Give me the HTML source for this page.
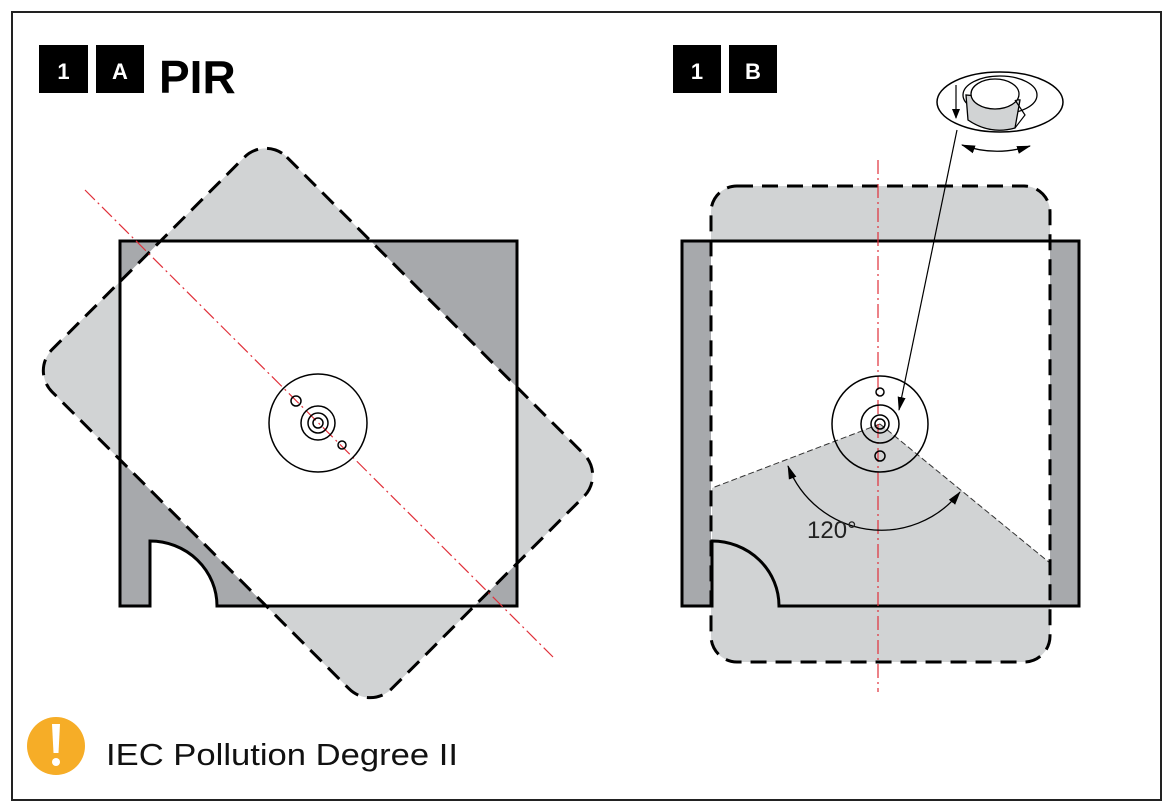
<!DOCTYPE html>
<html><head><meta charset="utf-8"><style>
html,body{margin:0;padding:0;background:#fff;}
svg{display:block;}
</style></head><body>
<svg width="1173" height="809" viewBox="0 0 1173 809" xmlns="http://www.w3.org/2000/svg">
<defs>
  <clipPath id="roomL"><path d="M120,241 H517 V606 H217 A67,65 0 0 0 150,541 V606 H120 Z"/></clipPath>
  <clipPath id="roomR"><path d="M682,241 H1079 V606 H779 A67,65 0 0 0 712,541 V606 H682 Z"/></clipPath>
  <clipPath id="rectR"><rect x="711" y="186" width="339" height="476" rx="26"/></clipPath>
  <marker id="ah" markerWidth="10" markerHeight="10" refX="9" refY="5" orient="auto" markerUnits="userSpaceOnUse"><path d="M0,1 L10,5 L0,9 Z" fill="#000"/></marker>
  <marker id="ahs" markerWidth="14" markerHeight="10" refX="13" refY="5" orient="auto-start-reverse" markerUnits="userSpaceOnUse"><path d="M0,1 L14,5 L0,9 Z" fill="#000"/></marker>
</defs>
<rect x="12" y="12" width="1149" height="788" fill="#fff" stroke="#222" stroke-width="2"/>

<!-- headers -->
<rect x="39" y="45" width="49" height="48" fill="#000"/>
<text x="63.5" y="79" font-family="Liberation Sans, sans-serif" font-size="22" font-weight="bold" fill="#fff" text-anchor="middle">1</text>
<rect x="96" y="45" width="48" height="48" fill="#000"/>
<text x="120" y="79" font-family="Liberation Sans, sans-serif" font-size="22" font-weight="bold" fill="#fff" text-anchor="middle">A</text>
<text x="159" y="93" font-family="Liberation Sans, sans-serif" font-size="46" font-weight="bold" fill="#000">PIR</text>
<rect x="673" y="45" width="48" height="48" fill="#000"/>
<text x="697" y="79" font-family="Liberation Sans, sans-serif" font-size="22" font-weight="bold" fill="#fff" text-anchor="middle">1</text>
<rect x="729" y="45" width="48" height="48" fill="#000"/>
<text x="753" y="79" font-family="Liberation Sans, sans-serif" font-size="22" font-weight="bold" fill="#fff" text-anchor="middle">B</text>

<!-- LEFT PANEL -->
<g transform="translate(318,423) rotate(45)">
  <rect x="-240" y="-166" width="480" height="332" rx="30" fill="#d1d3d4"/>
</g>
<path d="M120,241 H517 V606 H217 A67,65 0 0 0 150,541 V606 H120 Z" fill="#a7a9ac"/>
<g clip-path="url(#roomL)">
  <g transform="translate(318,423) rotate(45)">
    <rect x="-240" y="-166" width="480" height="332" rx="30" fill="#fff"/>
  </g>
</g>
<path d="M120,241 H517 V606 H217 A67,65 0 0 0 150,541 V606 H120 Z" fill="none" stroke="#000" stroke-width="3"/>
<g transform="translate(318,423) rotate(45)">
  <rect x="-240" y="-166" width="480" height="332" rx="30" fill="none" stroke="#000" stroke-width="3" stroke-dasharray="16,9"/>
</g>
<line x1="85" y1="190" x2="553" y2="657" stroke="#e0303a" stroke-width="1.2" stroke-dasharray="14,4,2,4"/>
<g fill="none" stroke="#000" stroke-width="1.5">
  <circle cx="318" cy="423" r="49"/>
  <circle cx="318" cy="423" r="17"/>
  <circle cx="318" cy="423" r="10"/>
  <circle cx="318" cy="423" r="5"/>
  <circle cx="296" cy="401" r="5"/>
  <circle cx="342" cy="445" r="4"/>
</g>

<!-- RIGHT PANEL -->
<rect x="711" y="186" width="339" height="476" rx="26" fill="#d1d3d4"/>
<path d="M682,241 H1079 V606 H779 A67,65 0 0 0 712,541 V606 H682 Z" fill="#a7a9ac"/>
<g clip-path="url(#roomR)">
  <g clip-path="url(#rectR)">
    <rect x="700" y="230" width="360" height="400" fill="#fff"/>
    <polygon points="880,424 712,488 712,700 1050,700 1050,563" fill="#d1d3d4"/>
  </g>
</g>
<line x1="880" y1="424" x2="712" y2="488" stroke="#333" stroke-width="1" stroke-dasharray="6,3"/>
<line x1="880" y1="424" x2="1050" y2="563" stroke="#333" stroke-width="1" stroke-dasharray="6,3"/>
<path d="M682,241 H1079 V606 H779 A67,65 0 0 0 712,541 V606 H682 Z" fill="none" stroke="#000" stroke-width="3"/>
<rect x="711" y="186" width="339" height="476" rx="26" fill="none" stroke="#000" stroke-width="3" stroke-dasharray="16,9"/>
<line x1="878" y1="160" x2="878" y2="692" stroke="#e0303a" stroke-width="1.2" stroke-dasharray="14,4,2,4"/>
<g fill="none" stroke="#000" stroke-width="1.5">
  <circle cx="880" cy="424" r="48"/>
  <circle cx="880" cy="424" r="19"/>
  <circle cx="880" cy="424" r="9"/>
  <circle cx="880" cy="424" r="5"/>
  <circle cx="880" cy="392" r="4"/>
  <circle cx="880" cy="456" r="5"/>
</g>
<path d="M788,466 A100,100 0 0 0 960,492" fill="none" stroke="#000" stroke-width="1.3" marker-start="url(#ahs)" marker-end="url(#ahs)"/>
<text x="807" y="538" font-family="Liberation Sans, sans-serif" font-size="24" fill="#222">120°</text>

<!-- inset -->
<ellipse cx="1000" cy="102" rx="63" ry="30" fill="#fff" stroke="#000" stroke-width="1.5"/>
<ellipse cx="1000" cy="95" rx="37" ry="19" fill="#fff" stroke="#000" stroke-width="1.3"/>
<path d="M966,95 L968,120 Q990,135 1015,128 L1020,100 Z" fill="#d1d3d4" stroke="#000" stroke-width="1.3"/>
<ellipse cx="995" cy="94" rx="24" ry="15" fill="#fff" stroke="#000" stroke-width="1.3"/>
<path d="M1015,100 L1025,115 L1015,128" fill="none" stroke="#000" stroke-width="1.2"/>
<line x1="956" y1="85" x2="956" y2="118" stroke="#000" stroke-width="1.2" marker-end="url(#ah)"/>
<path d="M962,145 Q995,157 1030,146" fill="none" stroke="#000" stroke-width="1.3" marker-start="url(#ahs)" marker-end="url(#ahs)"/>
<line x1="957" y1="130" x2="899" y2="410" stroke="#000" stroke-width="1.2" marker-end="url(#ahs)"/>

<!-- warning -->
<circle cx="56" cy="746" r="29" fill="#f6ad27"/>
<path d="M52,724 L60,724 L58.5,753 L53.5,753 Z" fill="#fff"/>
<circle cx="56" cy="762" r="4" fill="#fff"/>
<text x="106" y="765" font-family="Liberation Sans, sans-serif" font-size="31" fill="#111" textLength="352" lengthAdjust="spacingAndGlyphs">IEC Pollution Degree II</text>
</svg>
</body></html>
